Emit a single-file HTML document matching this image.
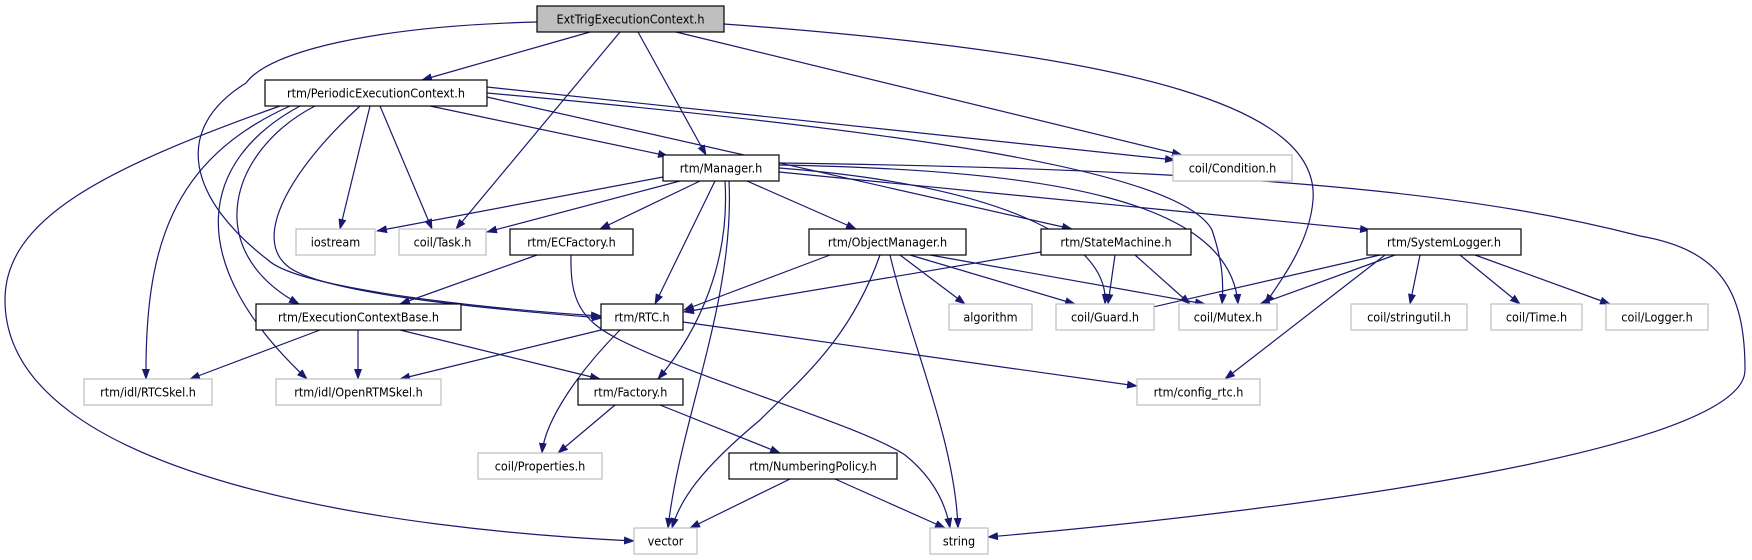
<!DOCTYPE html>
<html><head><meta charset="utf-8"><style>
html,body{margin:0;padding:0;background:#fff;}
svg{display:block;}
text{font-family:"DejaVu Sans Condensed","DejaVu Sans","Liberation Sans",sans-serif;font-size:12.5px;fill:#000;text-anchor:middle;}
.e{fill:none;stroke:#191970;stroke-width:1.2;marker-end:url(#a);}
.n{fill:#fff;stroke:#000;stroke-width:1.2;}
.g{fill:#fff;stroke:#bfbfbf;stroke-width:1.2;}
</style></head><body>
<svg width="1752" height="560" viewBox="0 0 1752 560" xmlns="http://www.w3.org/2000/svg">
<defs><marker id="a" markerWidth="11" markerHeight="8" refX="10" refY="4" orient="auto" markerUnits="userSpaceOnUse"><path d="M0,0 L11,4 L0,8 z" fill="#191970"/></marker></defs>
<g>
<path class="e" d="M590,32 L422,80"/>
<path class="e" d="M620,32 L456,229"/>
<path class="e" d="M638,32 L706,155"/>
<path class="e" d="M676,32 L1182,155"/>
<path class="e" d="M724,24 C1150,55 1320,110 1313,200 C1310,240 1285,275 1265,304"/>
<path class="e" d="M537,22 C380,26 270,50 246,83 C170,130 190,200 268,260 C300,290 500,310 601,316"/>
<path class="e" d="M487,87 L1175,160"/>
<path class="e" d="M430,106 L668,156"/>
<path class="e" d="M487,97 L1072,229"/>
<path class="e" d="M487,93 C900,130 1180,170 1212,230 C1222,260 1224,280 1222,304"/>
<path class="e" d="M370,106 L340,229"/>
<path class="e" d="M380,106 L432,229"/>
<path class="e" d="M360,106 C290,170 250,240 290,268 C330,295 500,310 602,318"/>
<path class="e" d="M315,106 C230,150 200,250 299,304"/>
<path class="e" d="M300,106 C200,160 180,260 307,379"/>
<path class="e" d="M290,106 C170,160 145,250 146,379"/>
<path class="e" d="M280,106 C100,170 5,220 5,300 C5,480 400,530 634,541"/>
<path class="e" d="M663,177 L377,231"/>
<path class="e" d="M680,181 L487,232"/>
<path class="e" d="M700,181 L600,229"/>
<path class="e" d="M715,181 L655,304"/>
<path class="e" d="M725,181 C730,260 700,330 658,379"/>
<path class="e" d="M729,181 C735,300 680,420 668,528"/>
<path class="e" d="M747,181 L856,229"/>
<path class="e" d="M779,168 C1000,185 1110,240 1105,304"/>
<path class="e" d="M779,165 C1050,170 1230,200 1238,304"/>
<path class="e" d="M779,172 L1370,230"/>
<path class="e" d="M779,163 C1300,170 1500,200 1640,236 C1720,250 1745,290 1745,370 C1745,450 1300,510 988,537"/>
<path class="e" d="M537,255 L400,304"/>
<path class="e" d="M571,255 C570,300 580,320 620,340 C700,380 860,425 905,455 C930,475 945,500 950,528"/>
<path class="e" d="M830,255 L684,310"/>
<path class="e" d="M900,255 L965,304"/>
<path class="e" d="M910,255 L1075,304"/>
<path class="e" d="M930,255 L1205,304"/>
<path class="e" d="M880,255 C850,340 800,380 760,420 C700,470 680,500 672,528"/>
<path class="e" d="M890,255 C910,340 955,440 958,528"/>
<path class="e" d="M1041,252 L684,312"/>
<path class="e" d="M1115,255 L1108,304"/>
<path class="e" d="M1135,255 L1190,304"/>
<path class="e" d="M1380,255 L1140,310"/>
<path class="e" d="M1395,255 L1260,304"/>
<path class="e" d="M1420,255 L1410,304"/>
<path class="e" d="M1460,255 L1520,304"/>
<path class="e" d="M1475,255 L1610,304"/>
<path class="e" d="M1385,255 L1225,379"/>
<path class="e" d="M320,330 L190,379"/>
<path class="e" d="M358,330 L358,379"/>
<path class="e" d="M400,330 L600,379"/>
<path class="e" d="M601,330 L400,379"/>
<path class="e" d="M620,330 C580,370 545,420 542,453"/>
<path class="e" d="M683,322 L1137,386"/>
<path class="e" d="M615,405 L558,453"/>
<path class="e" d="M660,405 L780,453"/>
<path class="e" d="M790,479 L690,528"/>
<path class="e" d="M835,479 L945,528"/>
</g>
<g>
<rect x="537" y="6" width="187" height="26" fill="#bfbfbf" stroke="#000" stroke-width="1.2"/><text x="630.5" y="23.5">ExtTrigExecutionContext.h</text>
<rect class="n" x="265" y="80" width="222" height="26"/><text x="376" y="97.5">rtm/PeriodicExecutionContext.h</text>
<rect class="n" x="663" y="155" width="116" height="26"/><text x="721" y="172.5">rtm/Manager.h</text>
<rect class="g" x="1173" y="155" width="119" height="26"/><text x="1232.5" y="172.5">coil/Condition.h</text>
<rect class="g" x="296" y="229" width="79" height="26"/><text x="335.5" y="246.5">iostream</text>
<rect class="g" x="399" y="229" width="87" height="26"/><text x="442.5" y="246.5">coil/Task.h</text>
<rect class="n" x="510" y="229" width="123" height="26"/><text x="571.5" y="246.5">rtm/ECFactory.h</text>
<rect class="n" x="809" y="229" width="157" height="26"/><text x="887.5" y="246.5">rtm/ObjectManager.h</text>
<rect class="n" x="1041" y="229" width="150" height="26"/><text x="1116" y="246.5">rtm/StateMachine.h</text>
<rect class="n" x="1367" y="229" width="154" height="26"/><text x="1444" y="246.5">rtm/SystemLogger.h</text>
<rect class="n" x="256" y="304" width="205" height="26"/><text x="358.5" y="321.5">rtm/ExecutionContextBase.h</text>
<rect class="n" x="601" y="304" width="82" height="26"/><text x="642" y="321.5">rtm/RTC.h</text>
<rect class="g" x="949" y="304" width="83" height="26"/><text x="990.5" y="321.5">algorithm</text>
<rect class="g" x="1056" y="304" width="98" height="26"/><text x="1105" y="321.5">coil/Guard.h</text>
<rect class="g" x="1179" y="304" width="98" height="26"/><text x="1228" y="321.5">coil/Mutex.h</text>
<rect class="g" x="1351" y="304" width="116" height="26"/><text x="1409" y="321.5">coil/stringutil.h</text>
<rect class="g" x="1491" y="304" width="91" height="26"/><text x="1536.5" y="321.5">coil/Time.h</text>
<rect class="g" x="1606" y="304" width="102" height="26"/><text x="1657" y="321.5">coil/Logger.h</text>
<rect class="g" x="84" y="379" width="128" height="26"/><text x="148" y="396.5">rtm/idl/RTCSkel.h</text>
<rect class="g" x="276" y="379" width="165" height="26"/><text x="358.5" y="396.5">rtm/idl/OpenRTMSkel.h</text>
<rect class="n" x="578" y="379" width="105" height="26"/><text x="630.5" y="396.5">rtm/Factory.h</text>
<rect class="g" x="1137" y="379" width="123" height="26"/><text x="1198.5" y="396.5">rtm/config_rtc.h</text>
<rect class="g" x="478" y="453" width="124" height="26"/><text x="540" y="470.5">coil/Properties.h</text>
<rect class="n" x="729" y="453" width="168" height="26"/><text x="813" y="470.5">rtm/NumberingPolicy.h</text>
<rect class="g" x="634" y="528" width="63" height="26"/><text x="665.5" y="545.5">vector</text>
<rect class="g" x="930" y="528" width="58" height="26"/><text x="959" y="545.5">string</text>
</g>
</svg>
</body></html>
